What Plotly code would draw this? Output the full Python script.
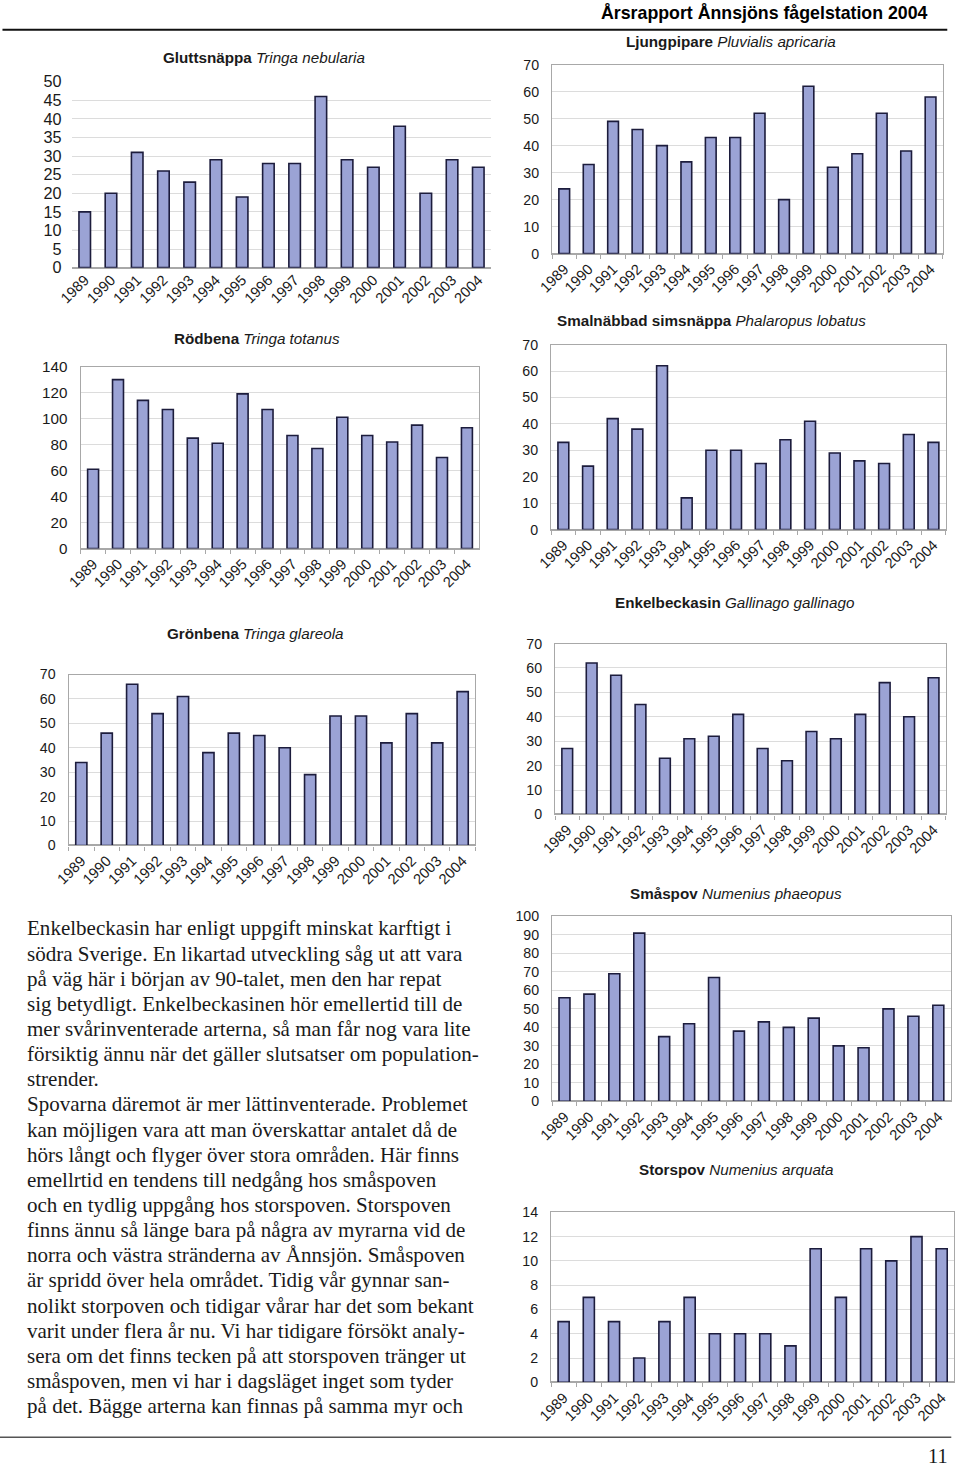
import plotly.graph_objects as go

W, H = 960, 1466

BAR = "#9ba3d5"
EDGE = "#1c1c3c"
GRID = "#dcdcdc"
FRAME = "#a8a8a8"
TEXT = "#1a1a1a"
SANS = "Liberation Sans, Arial, sans-serif"
SERIF = "Liberation Serif, Times New Roman, serif"

YEARS = ["1989", "1990", "1991", "1992", "1993", "1994", "1995", "1996",
         "1997", "1998", "1999", "2000", "2001", "2002", "2003", "2004"]

GLUTTSNAPPA = [15, 20, 31, 26, 23, 29, 19, 28, 28, 46, 29, 27, 38, 20, 29, 27]
RODBENA = [61, 130, 114, 107, 85, 81, 119, 107, 87, 77, 101, 87, 82, 95, 70, 93]
GRONBENA = [34, 46, 66, 54, 61, 38, 46, 45, 40, 29, 53, 53, 42, 54, 42, 63]
LJUNGPIPARE = [24, 33, 49, 46, 40, 34, 43, 43, 52, 20, 62, 32, 37, 52, 38, 58]
SIMSNAPPA = [33, 24, 42, 38, 62, 12, 30, 30, 25, 34, 41, 29, 26, 25, 36, 33]
ENKELBECKASIN = [27, 62, 57, 45, 23, 31, 32, 41, 27, 22, 34, 31, 41, 54, 40, 56]
SMASPOV = [56, 58, 69, 91, 35, 42, 67, 38, 43, 40, 45, 30, 29, 50, 46, 52]
STORSPOV = [5, 7, 5, 2, 5, 7, 4, 4, 4, 3, 11, 7, 11, 10, 12, 11]

SPECIES = [
    ("Gluttsnäppa", "Tringa nebularia", GLUTTSNAPPA, 50, 5),
    ("Rödbena", "Tringa totanus", RODBENA, 140, 20),
    ("Grönbena", "Tringa glareola", GRONBENA, 70, 10),
    ("Ljungpipare", "Pluvialis apricaria", LJUNGPIPARE, 70, 10),
    ("Smalnäbbad simsnäppa", "Phalaropus lobatus", SIMSNAPPA, 70, 10),
    ("Enkelbeckasin", "Gallinago gallinago", ENKELBECKASIN, 70, 10),
    ("Småspov", "Numenius phaeopus", SMASPOV, 100, 10),
    ("Storspov", "Numenius arquata", STORSPOV, 14, 2),
]

# plot box in page pixels: x0, x1, top, bottom, title centre x/y, y tick size, frame
BOXES = [
    (74, 493, 81, 267, 266, 57, 16, False),
    (83, 481, 366, 548, 259, 338, 15, True),
    (71, 477, 674, 845, 258, 633, 14, True),
    (553.5, 943.5, 64, 253, 732, 41, 14, True),
    (552.5, 946.5, 344, 529, 713, 320, 14, True),
    (556.5, 946.5, 643, 814, 736, 602, 14, True),
    (553.5, 951.5, 916, 1101, 737, 893, 14, True),
    (552.5, 955, 1212, 1382, 738, 1169, 14, True),
]

TEXT_LINES = [
    "Enkelbeckasin har enligt uppgift minskat karftigt i",
    "södra Sverige. En likartad utveckling såg ut att vara",
    "på väg här i början av 90-talet, men den har repat",
    "sig betydligt. Enkelbeckasinen hör emellertid till de",
    "mer svårinventerade arterna, så man får nog vara lite",
    "försiktig ännu när det gäller slutsatser om population-",
    "strender.",
    "Spovarna däremot är mer lättinventerade. Problemet",
    "kan möjligen vara att man överskattar antalet då de",
    "hörs långt och flyger över stora områden. Här finns",
    "emellrtid en tendens till nedgång hos småspoven",
    "och en tydlig uppgång hos storspoven. Storspoven",
    "finns ännu så länge bara på några av myrarna vid de",
    "norra och västra stränderna av Ånnsjön. Småspoven",
    "är spridd över hela området. Tidig vår gynnar san-",
    "nolikt storpoven och tidigar vårar har det som bekant",
    "varit under flera år nu. Vi har tidigare försökt analy-",
    "sera om det finns tecken på att storspoven tränger ut",
    "småspoven, men vi har i dagsläget inget som tyder",
    "på det. Bägge arterna kan finnas på samma myr och",
]

# the captured page comes out slightly shrunk and offset; undo that here
SX, OX = 0.9825, 17.5
SY, OY = 0.988, 8.3
FS = 1 / 0.985


def px(x):
    return ((x - OX) / SX) / W


def py(y):
    return 1 - ((y - OY) / SY) / H


fig = go.Figure()
annotations = []
shapes = []
layout = dict(
    width=W, height=H,
    margin=dict(l=0, r=0, t=0, b=0),
    paper_bgcolor="white", plot_bgcolor="white",
    showlegend=False, bargap=0.56,
    font=dict(family=SANS, color=TEXT),
)

for i, ((name, latin, vals, ymax, dtick), box) in enumerate(zip(SPECIES, BOXES), start=1):
    x0, x1, top, bot, tx, ty, yfs, frame = box
    xa, ya = f"x{i}", f"y{i}"
    fig.add_trace(go.Bar(
        x=YEARS, y=vals, xaxis=xa, yaxis=ya,
        marker=dict(color=BAR, line=dict(color=EDGE, width=1.6)),
        hoverinfo="x+y"))
    layout[f"xaxis{i}"] = dict(
        domain=[px(x0), px(x1)], anchor=ya, type="category",
        tickangle=-45, tickfont=dict(size=14.5 * FS, family=SANS, color=TEXT),
        showline=frame, mirror=frame, linecolor=FRAME, linewidth=1.2,
        ticks="outside" if frame else "", tickson="boundaries",
        ticklen=4, tickcolor=FRAME, showgrid=False, fixedrange=True)
    layout[f"yaxis{i}"] = dict(
        domain=[py(bot), py(top)], anchor=xa,
        range=[0, ymax], dtick=dtick,
        tickfont=dict(size=yfs * FS, family=SANS, color=TEXT),
        showline=frame, mirror=frame, linecolor=FRAME, linewidth=1.2,
        gridcolor=GRID, gridwidth=1, zeroline=True, zerolinecolor=FRAME,
        ticklabelstandoff=9, fixedrange=True)
    annotations.append(dict(
        text=f"<b>{name}</b> <i>{latin}</i>", xref="paper", yref="paper",
        x=px(tx), y=py(ty), xanchor="center", yanchor="middle",
        showarrow=False, font=dict(size=15 * FS, family=SANS, color=TEXT)))

# page header and rules
annotations.append(dict(
    text="<b>Årsrapport Ånnsjöns fågelstation 2004</b>", xref="paper", yref="paper",
    x=px(931), y=py(12), xanchor="right", yanchor="middle", showarrow=False,
    font=dict(size=17.5 * FS, family=SANS, color="#000000")))
shapes.append(dict(type="line", xref="paper", yref="paper",
                   x0=px(5), x1=px(948), y0=py(29), y1=py(29),
                   line=dict(color="#111111", width=2)))
shapes.append(dict(type="line", xref="paper", yref="paper",
                   x0=px(0), x1=px(952), y0=py(1437), y1=py(1437),
                   line=dict(color="#555555", width=1.5)))
annotations.append(dict(
    text="11", xref="paper", yref="paper", x=px(951), y=py(1456),
    xanchor="right", yanchor="middle", showarrow=False,
    font=dict(size=20 * FS, family=SERIF, color=TEXT)))

# body text, one annotation per printed line
for k, line in enumerate(TEXT_LINES):
    annotations.append(dict(
        text=line, xref="paper", yref="paper",
        x=px(27.5), y=py(928 + 25.15 * k), xanchor="left", yanchor="middle",
        showarrow=False, font=dict(size=20.75 * FS, family=SERIF, color=TEXT)))

layout["annotations"] = annotations
layout["shapes"] = shapes
fig.update_layout(**layout)
fig.write_html("out.html", config={"displayModeBar": False},
               post_script="document.body.style.margin='0';")
